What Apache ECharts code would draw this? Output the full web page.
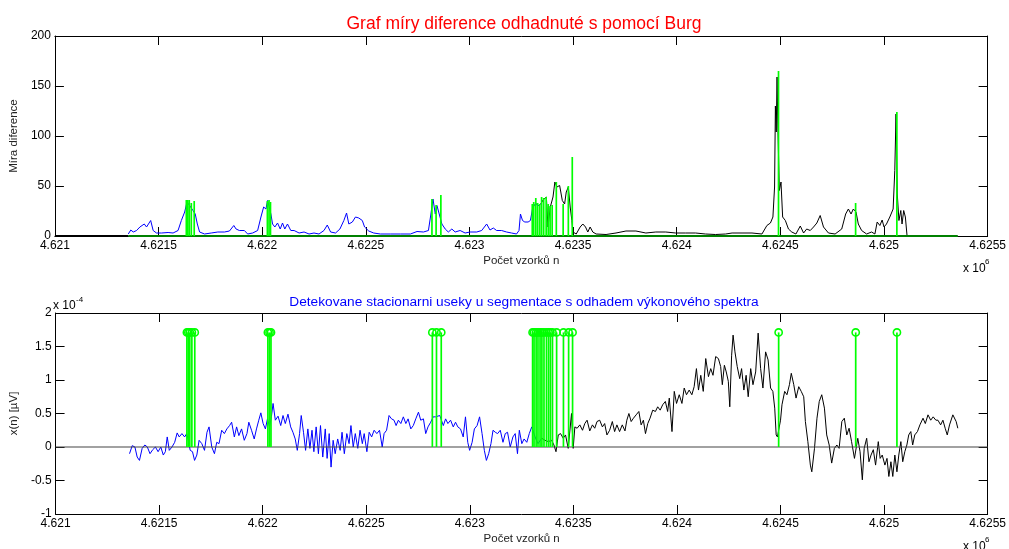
<!DOCTYPE html>
<html>
<head>
<meta charset="utf-8">
<script src="https://cdn.jsdelivr.net/npm/echarts@6/dist/echarts.min.js"></script>
<style>
html,body{margin:0;padding:0;background:#fff;}
#chart{width:1009px;height:549px;}
</style>
</head>
<body>
<div id="chart"></div>
<script>
// ---------------- DATA ----------------
// sample index = BASE + offset
const BASE = 4621000;
const X_MIN = 4621000, X_MAX = 4625500, X_STEP = 500;

// top plot: difference measure (blue part, then black part) [offset, value]
const topBlue = [[354,2],[366,6],[378,4],[394,5.5],[410,9],[431,12],[442,9],[462,15.5],[474,5.5],[490,3],[514,3],[546,3.5],[570,3],[594,5.5],[610,15.5],[626,24],[637,34],[650,30.5],[666,25.5],[677,22],[687,12],[698,4],[722,2],[754,3],[786,4],[818,4],[842,5],[863,10.5],[874,7],[890,5.5],[914,5.5],[930,2],[954,3],[978,5.5],[994,19],[1007,29],[1018,27],[1026,35.5],[1034,29],[1042,22],[1050,12],[1061,9],[1074,13],[1087,7],[1098,13],[1109,7],[1122,12],[1138,5.5],[1154,5.5],[1178,3],[1202,4],[1226,2],[1250,3],[1274,2],[1298,5.5],[1314,11],[1330,4],[1354,3],[1375,7],[1394,15.5],[1407,23],[1418,12],[1435,14],[1450,19],[1466,18],[1483,15.5],[1494,9],[1514,5],[1538,3],[1570,2],[1618,2],[1667,2],[1715,2],[1747,4.5],[1778,4],[1802,5.5],[1814,22],[1824,37],[1835,22],[1843,30.5],[1854,22],[1867,12],[1883,7],[1898,4],[1915,7],[1931,4],[1955,5.5],[1979,3],[2003,4],[2035,4],[2059,5.5],[2083,12],[2099,6],[2115,8],[2131,5.5],[2155,5.5],[2179,4],[2203,3],[2227,2],[2239,5.5],[2246,22],[2256,15.5],[2267,14],[2283,14],[2294,15.5],[2305,28],[2320,33],[2329,30],[2344,32]];
const topBlack = [[2344,32],[2355,36],[2371,39],[2379,9],[2390,29],[2403,39],[2412,54],[2422,49],[2435,50.5],[2448,35.5],[2459,32],[2467,44],[2477,49],[2486,29],[2494,15.5],[2499,4],[2515,2],[2534,9],[2547,12],[2560,9],[2571,4],[2582,9],[2595,4],[2611,2],[2659,1.5],[2707,3],[2755,5],[2803,5],[2851,3],[2899,4],[2947,4],[2995,3],[3043,3],[3091,3],[3139,2],[3187,1.5],[3236,2],[3267,3],[3315,3],[3363,3],[3411,2],[3435,10.5],[3452,13],[3464,19],[3472,49],[3476,130],[3480,104],[3484,159],[3488,109],[3495,45.5],[3503,54],[3511,19],[3524,15.5],[3539,7],[3555,4],[3575,2],[3596,10],[3612,3],[3627,7],[3644,5.5],[3660,9],[3676,13],[3692,20.5],[3708,9],[3732,3],[3764,2],[3796,7],[3815,22],[3828,27],[3841,22],[3852,27],[3865,24],[3876,12],[3892,5.5],[3916,2],[3940,4],[3956,2],[3967,14],[3980,10.5],[3991,16],[4000,9],[4012,12],[4028,19],[4044,27],[4052,65.5],[4058,122],[4064,42],[4072,15.5],[4081,25.5],[4087,12],[4095,25.5],[4103,19],[4111,0.5]];
const topZeroBlack = [[0,0],[354,0]];
const topZeroGreen = [[354,0],[4356,0]];

// detected segment boundaries (offsets) and stem heights in the top plot
const detectedX = [634,641,648,658,672,1025,1033,1040,1819,1839,1862,2303,2310,2320,2329,2339,2348,2358,2370,2380,2389,2399,2419,2452,2477,2496,3491,3863,4062];
const topStemH  = [36,36,36,33,35,35,36,34,37,31,41,32,34,38,33,32,39,38,39,32,30,31,54,32,50,79,165,33,124];
const STEM_LEVEL = 1.71; // bottom plot stem height (x 1e-4)

// bottom plot: signal x(n) in units of 1e-4 [offset, value]
const botBlue = [[357,-0.10],[370,0.02],[383,0],[394,-0.15],[405,-0.2],[418,-0.02],[431,0.03],[443,0],[456,-0.1],[469,-0.04],[482,0],[495,-0.07],[508,0],[520,-0.12],[530,-0.07],[539,0.15],[549,-0.05],[562,0],[575,0.07],[587,0.21],[597,0.15],[610,0.2],[623,0.15],[633,0.2],[641,0.1],[650,-0.05],[661,-0.07],[671,-0.2],[682,-0.12],[693,0.1],[706,0.05],[719,-0.05],[731,0.22],[741,0.3],[754,0],[767,-0.1],[778,0.07],[789,0.05],[802,0.25],[815,0.2],[827,0.27],[840,0.32],[850,0.37],[863,0.15],[874,0.3],[885,0.17],[898,0.27],[911,0.1],[924,0.2],[933,0.37],[946,0.25],[959,0.12],[970,0.27],[981,0.4],[991,0.51],[1002,0.35],[1013,0.27],[1023,0.42],[1033,0.3],[1042,0.45],[1050,0.65],[1061,0.4],[1074,0.46],[1087,0.32],[1098,0.47],[1109,0.35],[1122,0.49],[1135,0.3],[1146,0.22],[1157,0.12],[1167,-0.05],[1178,0.2],[1186,0.47],[1197,0.22],[1207,-0.05],[1218,0.27],[1228,-0.02],[1238,0.25],[1247,-0.07],[1258,0.3],[1269,-0.1],[1279,0.32],[1290,-0.15],[1302,0.27],[1311,-0.17],[1321,0.2],[1330,-0.3],[1340,0.1],[1350,-0.1],[1362,0.12],[1374,-0.05],[1383,0.22],[1394,-0.1],[1406,0.2],[1417,0.05],[1426,0.32],[1437,0],[1447,0.2],[1459,-0.02],[1470,0.25],[1481,0.05],[1490,0.2],[1503,-0.07],[1514,0.22],[1526,0.15],[1538,0.25],[1551,0.2],[1564,0.25],[1577,0],[1586,0.2],[1598,0.25],[1610,0.47],[1622,0.42],[1634,0.4],[1644,0.32],[1655,0.4],[1667,0.35],[1679,0.45],[1691,0.35],[1702,0.42],[1715,0.27],[1727,0.32],[1739,0.42],[1752,0.52],[1763,0.4],[1776,0.42],[1787,0.2],[1798,0.3],[1811,0.37],[1823,0.45],[1835,0.45],[1855,0.47],[1872,0.32],[1883,0.42],[1894,0.35],[1907,0.4],[1920,0.3],[1931,0.37],[1942,0.3],[1955,0.27],[1968,0.15],[1979,0.45],[1990,0.07],[1999,-0.05],[2011,0.07],[2022,0.27],[2035,0.32],[2047,0.45],[2059,0.2],[2070,-0.05],[2080,-0.2],[2091,-0.1],[2102,0.05],[2112,0.25],[2123,0.22],[2134,0.2],[2147,0.25],[2160,0.07],[2171,0.2],[2182,0.22],[2195,0],[2208,0.15],[2219,0.2],[2230,-0.1],[2239,0.25],[2251,0.05],[2262,0.12],[2275,0.07],[2287,0.2],[2299,0.3],[2315,0.15],[2329,0.05],[2347,0.13]];
const botBlack = [[2347,0.13],[2363,0.1],[2379,0.08],[2395,0.1],[2406,0.03],[2416,-0.07],[2427,0.18],[2438,0.2],[2451,0.13],[2462,0.18],[2475,-0.02],[2483,-0.04],[2491,0.5],[2499,-0.02],[2507,0.3],[2518,0.28],[2531,0.33],[2544,0.25],[2555,0.35],[2566,0.4],[2579,0.24],[2592,0.33],[2603,0.28],[2614,0.38],[2627,0.4],[2640,0.3],[2651,0.35],[2662,0.18],[2675,0.25],[2688,0.38],[2699,0.23],[2710,0.33],[2723,0.23],[2736,0.33],[2749,0.24],[2758,0.4],[2768,0.5],[2779,0.38],[2790,0.43],[2803,0.48],[2816,0.53],[2827,0.33],[2838,0.4],[2848,0.2],[2859,0.35],[2870,0.43],[2883,0.55],[2896,0.53],[2907,0.6],[2919,0.55],[2931,0.63],[2944,0.68],[2955,0.53],[2963,0.73],[2976,0.23],[2987,0.83],[2998,0.65],[3011,0.78],[3024,0.65],[3035,0.88],[3046,0.78],[3059,0.85],[3072,0.78],[3083,0.9],[3094,1.17],[3104,0.85],[3115,1.07],[3127,0.83],[3139,1.32],[3152,1.05],[3163,1.17],[3174,1.07],[3187,1.35],[3200,1.32],[3211,1.2],[3219,0.93],[3229,1.22],[3238,1.12],[3248,0.98],[3255,0.6],[3264,1.37],[3271,1.67],[3280,1.42],[3291,1.2],[3303,1.02],[3312,1.17],[3323,0.85],[3334,1.07],[3344,0.75],[3356,1.17],[3367,0.93],[3380,1.12],[3392,1.7],[3404,1.17],[3415,0.88],[3428,1.42],[3440,1.3],[3452,0.88],[3463,0.83],[3472,0.58],[3479,0.18],[3485,0.15],[3500,0.4],[3507,0.63],[3520,0.83],[3531,0.78],[3543,0.93],[3552,1.1],[3564,0.93],[3575,0.73],[3588,0.9],[3600,0.83],[3612,0.75],[3620,0.38],[3632,0.08],[3644,-0.27],[3651,-0.37],[3664,-0.02],[3676,0.43],[3687,0.68],[3699,0.78],[3712,0.58],[3723,0.18],[3735,0.03],[3747,-0.24],[3760,-0.02],[3772,0.03],[3783,-0.02],[3796,0.38],[3808,0.43],[3820,0.18],[3831,0.28],[3843,0.08],[3857,-0.17],[3873,0.13],[3884,-0.07],[3895,-0.49],[3904,-0.02],[3916,0.13],[3927,-0.22],[3937,-0.12],[3948,-0.04],[3959,-0.27],[3972,0.08],[3981,-0.17],[3991,-0.12],[4004,-0.27],[4014,-0.17],[4023,-0.44],[4033,-0.22],[4042,-0.44],[4052,-0.12],[4062,-0.37],[4071,-0.12],[4081,0.08],[4090,-0.22],[4100,-0.07],[4110,0.03],[4119,0.18],[4129,0.23],[4138,0.03],[4148,0.18],[4161,0.23],[4173,0.33],[4188,0.43],[4199,0.35],[4212,0.48],[4225,0.4],[4237,0.45],[4250,0.4],[4260,0.4],[4273,0.33],[4284,0.4],[4295,0.28],[4305,0.18],[4316,0.33],[4332,0.48],[4348,0.38],[4356,0.28]];
const botZero = [[0,0],[4500,0]];

const topYTicks = {min:0, max:200, step:50};
const botYTicks = {min:-1, max:2, step:0.5};

// ---------------- CHART ----------------
const FONT = '"Liberation Sans", Arial, sans-serif';
const abs = arr => arr.map(p => [BASE + p[0], p[1]]);

function xAx(grid, pos, labels, name) {
  return {
    type:'value', gridIndex:grid, position:pos, min:X_MIN, max:X_MAX, interval:X_STEP,
    axisLine:{show:true, onZero:false, lineStyle:{color:'#000', width:1}},
    axisTick:{show:true, inside:true, length:9, lineStyle:{color:'#000', width:1}},
    axisLabel:{show:labels, color:'#000', fontFamily:FONT, fontSize:12, margin:4,
      formatter: v => String(v/1e6)},
    splitLine:{show:false},
    name: name || '', nameLocation:'middle', nameGap:19,
    nameTextStyle:{color:'#222', fontFamily:FONT, fontSize:11.5}
  };
}
function yAx(grid, pos, t, labels, name) {
  return {
    type:'value', gridIndex:grid, position:pos, min:t.min, max:t.max, interval:t.step,
    axisLine:{show:true, onZero:false, lineStyle:{color:'#000', width:1}},
    axisTick:{show:true, inside:true, length:9, lineStyle:{color:'#000', width:1}},
    axisLabel:{show:labels, color:'#000', fontFamily:FONT, fontSize:12, margin:4},
    splitLine:{show:false},
    name: name || '', nameLocation:'middle', nameGap:27, nameRotate:90,
    nameTextStyle:{color:'#222', fontFamily:FONT, fontSize:11.5}
  };
}
function lineS(xi, yi, data, color, width, z) {
  return {type:'line', xAxisIndex:xi, yAxisIndex:yi, data:abs(data), showSymbol:false, symbol:'none',
    lineStyle:{color:color, width:width}, itemStyle:{color:color}, z:z||2, silent:true};
}
function stemS(xi, yi, data, marker) {
  return {
    type:'custom', xAxisIndex:xi, yAxisIndex:yi, data:data, z:5, silent:true,
    encode:{x:0, y:1},
    renderItem:(params, api) => {
      const x = api.value(0), h = api.value(1);
      const p0 = api.coord([x, 0]), p1 = api.coord([x, h]);
      const children = [{type:'line', shape:{x1:p0[0], y1:p0[1], x2:p1[0], y2:p1[1]},
        style:{stroke:'#00ff00', lineWidth:1.7}}];
      if (marker) children.push({type:'circle', shape:{cx:p1[0], cy:p1[1], r:3.6},
        style:{fill:null, stroke:'#00ff00', lineWidth:1.6}});
      return {type:'group', children:children};
    }
  };
}

const topStems = detectedX.map((x, i) => [BASE + x, topStemH[i]]);
const botStems = detectedX.map(x => [BASE + x, STEM_LEVEL]);

const chart = echarts.init(document.getElementById('chart'), null, {renderer:'canvas'});
chart.setOption({
  animation:false,
  backgroundColor:'#fff',
  title:[
    {text:'Graf míry diference odhadnuté s pomocí Burg', left:519, top:10, textAlign:'center',
      textStyle:{color:'#ff0000', fontFamily:FONT, fontSize:17.5, fontWeight:'normal'}},
    {text:'Detekovane stacionarni useky u segmentace s odhadem výkonového spektra', left:519, top:290, textAlign:'center',
      textStyle:{color:'#0000ff', fontFamily:FONT, fontSize:13.7, fontWeight:'normal'}}
  ],
  grid:[
    {left:53, top:36, width:937, height:200, containLabel:false},
    {left:53, top:313, width:937, height:201, containLabel:false}
  ],
  xAxis:[
    xAx(0,'bottom',true,'Počet vzorků n'), xAx(0,'top',false),
    xAx(1,'bottom',true,'Počet vzorků n'), xAx(1,'top',false)
  ],
  yAxis:[
    yAx(0,'left',topYTicks,true,'Míra diference'), yAx(0,'right',topYTicks,false),
    yAx(1,'left',botYTicks,true,'x(n) [µV]'), yAx(1,'right',botYTicks,false)
  ],
  graphic:[
    {type:'text', left:963, top:263, style:{text:'x 10', font:'12px '+FONT, fill:'#000'}},
    {type:'text', left:985, top:258, style:{text:'6', font:'8px '+FONT, fill:'#000'}},
    {type:'text', left:963, top:541, style:{text:'x 10', font:'12px '+FONT, fill:'#000'}},
    {type:'text', left:985, top:536, style:{text:'6', font:'8px '+FONT, fill:'#000'}},
    {type:'text', left:53, top:300, style:{text:'x 10', font:'12px '+FONT, fill:'#000'}},
    {type:'text', left:76, top:296, style:{text:'-4', font:'8px '+FONT, fill:'#000'}}
  ],
  series:[
    lineS(0,0,topBlue,'#0000ff',1,2),
    lineS(0,0,topBlack,'#000000',1,2),
    lineS(0,0,topZeroBlack,'#000000',2,3),
    lineS(0,0,topZeroGreen,'#008000',2.2,3),
    stemS(0,0,topStems,false),
    lineS(2,2,botBlue,'#0000ff',1,2),
    lineS(2,2,botBlack,'#000000',1,2),
    lineS(2,2,botZero,'#444444',1.2,3),
    stemS(2,2,botStems,true)
  ]
});
</script>
</body>
</html>
